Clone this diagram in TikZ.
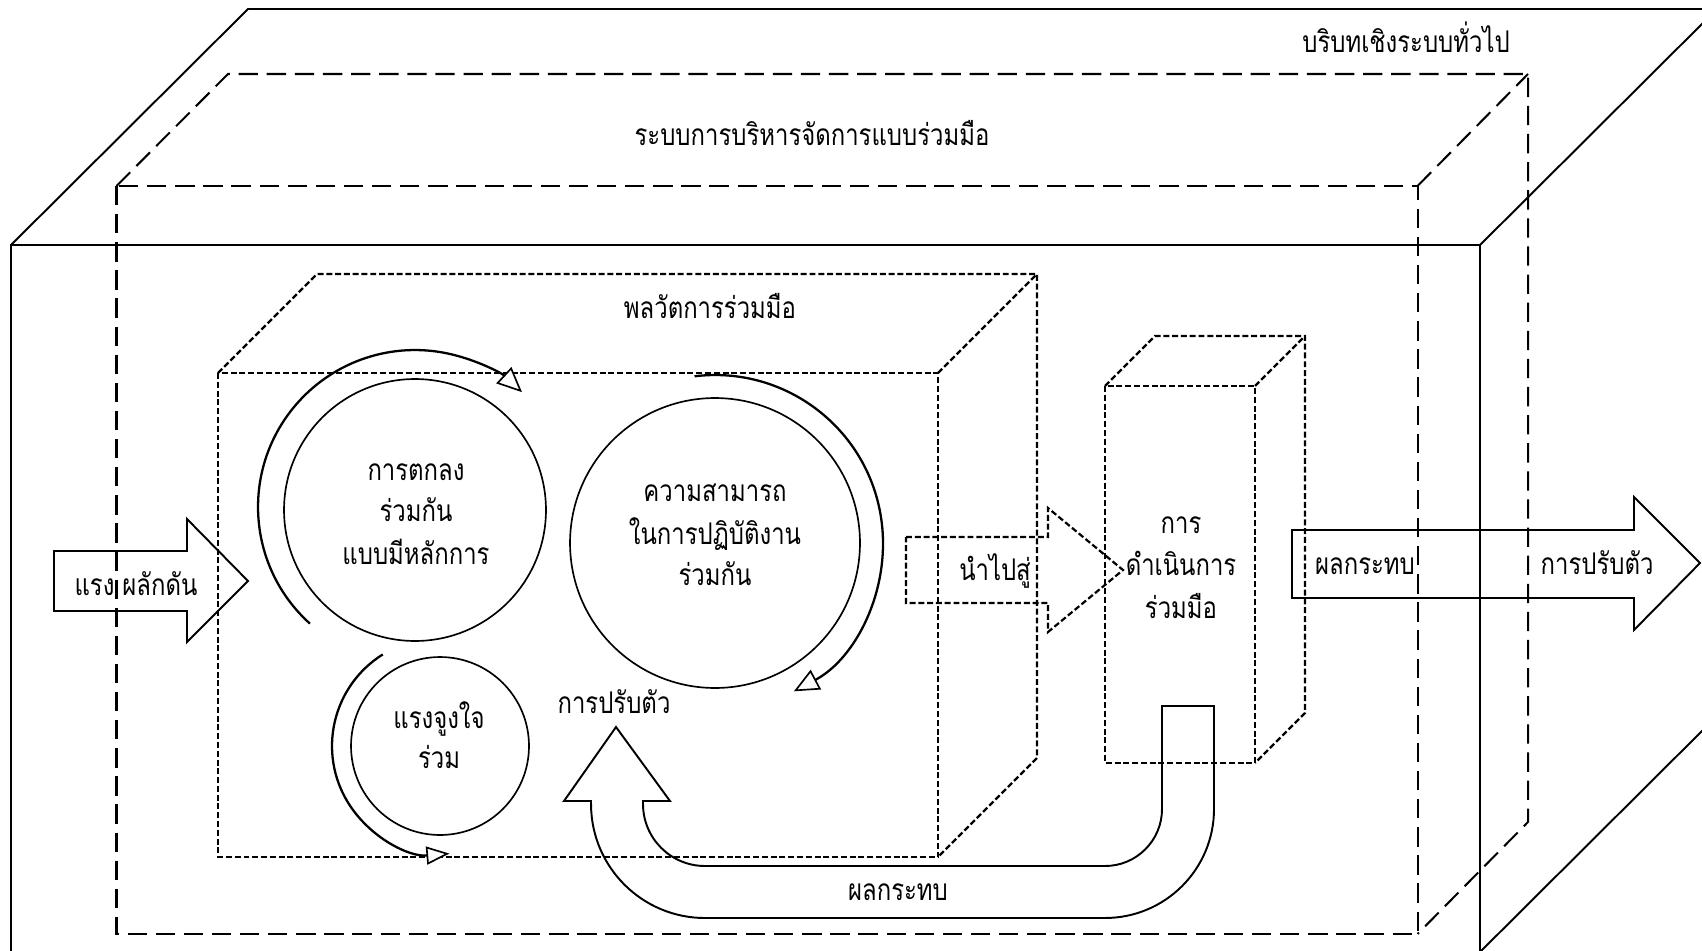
\documentclass[tikz,border=0pt]{standalone}
\usepackage{fontspec}
\newfontfamily\thai[Script=Thai,FakeStretch=0.8]{Loma}
\usetikzlibrary{arrows.meta,calc}
\begin{document}
\begin{tikzpicture}[x=0.02cm,y=-0.02cm,
  solidedge/.style={line width=1.1pt, line join=miter},
  longdash/.style={line width=1.15pt, dash pattern=on 11pt off 5pt},
  shortdash/.style={line width=1.25pt, dash pattern=on 3.4pt off 1.6pt},
  ring/.style={circle, draw, line width=0.95pt, inner sep=0pt},
  cyclearrow/.style={line width=1.3pt, -{Triangle[fill=white, length=0.5cm, width=0.44cm, line width=0.95pt]}},
  smallcycle/.style={line width=1.3pt, -{Triangle[fill=white, length=0.46cm, width=0.36cm, line width=0.95pt]}},
  blockarrow/.style={line width=1.1pt, line join=miter},
  txt/.style={anchor=base, inner sep=0pt, font=\thai\fontsize{17pt}{20pt}\selectfont},
]
\useasboundingbox (0,0) rectangle (1702,950);
\clip (0,0) rectangle (1702,950);

% general systemic context (solid box)
\draw[solidedge] (11,955) -- (11,245) -- (1480,245) -- (1480,955);
\draw[solidedge] (11,245) -- (248,9) -- (1720,9);
\draw[solidedge] (1480,245) -- (1717,9);
\draw[solidedge] (1480,952) -- (1717,716);

% collaborative governance regime (long dashes)
\draw[longdash] (116.5,186) rectangle (1417.5,934);
\draw[longdash] (116.5,186) -- (228,74) -- (1528,74) -- (1528,822) -- (1417.5,934);
\draw[longdash] (1417.5,186) -- (1528,74);

% collaboration dynamics
\draw[shortdash] (218,373) rectangle (938,857);
\draw[shortdash] (218,373) -- (317,274) -- (1037,274) -- (1037,758) -- (938,857);
\draw[shortdash] (938,373) -- (1037,274);

% collaborative actions
\draw[shortdash] (1105,386) rectangle (1255,763);
\draw[shortdash] (1105,386) -- (1155,336) -- (1305,336) -- (1305,713) -- (1255,763);
\draw[shortdash] (1255,386) -- (1305,336);

% block arrows
\draw[blockarrow] (54,551) -- (187,551) -- (187,519) -- (248,581) -- (187,642) -- (187,611) -- (54,611) -- cycle;
\draw[blockarrow, shortdash] (906,537) -- (1048,537) -- (1048,508) -- (1123,570) -- (1048,632) -- (1048,603) -- (906,603) -- cycle;
\draw[blockarrow] (1292,530) -- (1634,530) -- (1634,497) -- (1700,563) -- (1634,630) -- (1634,598) -- (1292,598) -- cycle;

% feedback arrow: impacts back to adaptation
\draw[blockarrow] (1162,706) -- (1214,706) -- (1214,809)
  arc[start angle=0, end angle=-90, radius=2.18cm] -- (705,918)
  arc[start angle=-90, end angle=-180, radius=2.28cm] -- (591,801) -- (564,801) -- (616,727) -- (670,801) -- (643,801) -- (643,804)
  arc[start angle=180, end angle=270, radius=1.24cm] -- (1105,866)
  arc[start angle=270, end angle=360, radius=1.14cm] -- cycle;

% the three drivers of collaboration dynamics
\node[ring, minimum size=5.24cm] (agree) at (415,510) {};
\node[ring, minimum size=5.8cm] (capacity) at (715,543) {};
\node[ring, minimum size=3.56cm] (motive) at (440,746) {};

\draw[cyclearrow] ($(agree.center)+(0,-3)+(228:3.14cm)$) arc[start angle=228, end angle=47, radius=3.14cm];
\draw[cyclearrow] ($(capacity.center)+(97:3.36cm)$) arc[start angle=97, end angle=-62, radius=3.36cm];
\draw[smallcycle] ($(motive.center)+(122:2.16cm)$) arc[start angle=122, end angle=275, radius=2.16cm];

% labels
\node[txt] (ctx) at (1406,52) {บริบทเชิงระบบทั่วไป};
\node[txt] (cgr) at (812,145) {ระบบการบริหารจัดการแบบร่วมมือ};
\node[txt] (dyn) at (710,318) {พลวัตการร่วมมือ};
\node[txt] (ag1) at (416,480) {การตกลง};
\node[txt] (ag2) at (416,521) {ร่วมกัน};
\node[txt] (ag3) at (416,564) {แบบมีหลักการ};
\node[txt] (ca1) at (715,501) {ความสามารถ};
\node[txt] (ca2) at (715,544) {ในการปฏิบัติงาน};
\node[txt] (ca3) at (715,585) {ร่วมกัน};
\node[txt] (mo1) at (439,728) {แรงจูงใจ};
\node[txt] (mo2) at (439,768) {ร่วม};
\node[txt] (drv) at (136,595) {แรง ผลักดัน};
\node[txt] (lead) at (995,580) {นำไปสู่};
\node[txt] (ac1) at (1181,533) {การ};
\node[txt] (ac2) at (1181,575) {ดำเนินการ};
\node[txt] (ac3) at (1181,618) {ร่วมมือ};
\node[txt] (imp) at (1365,574) {ผลกระทบ};
\node[txt] (adp) at (1597,574) {การปรับตัว};
\node[txt] (adp2) at (614,713) {การปรับตัว};
\node[txt] (imp2) at (898,900) {ผลกระทบ};
\end{tikzpicture}
\end{document}
